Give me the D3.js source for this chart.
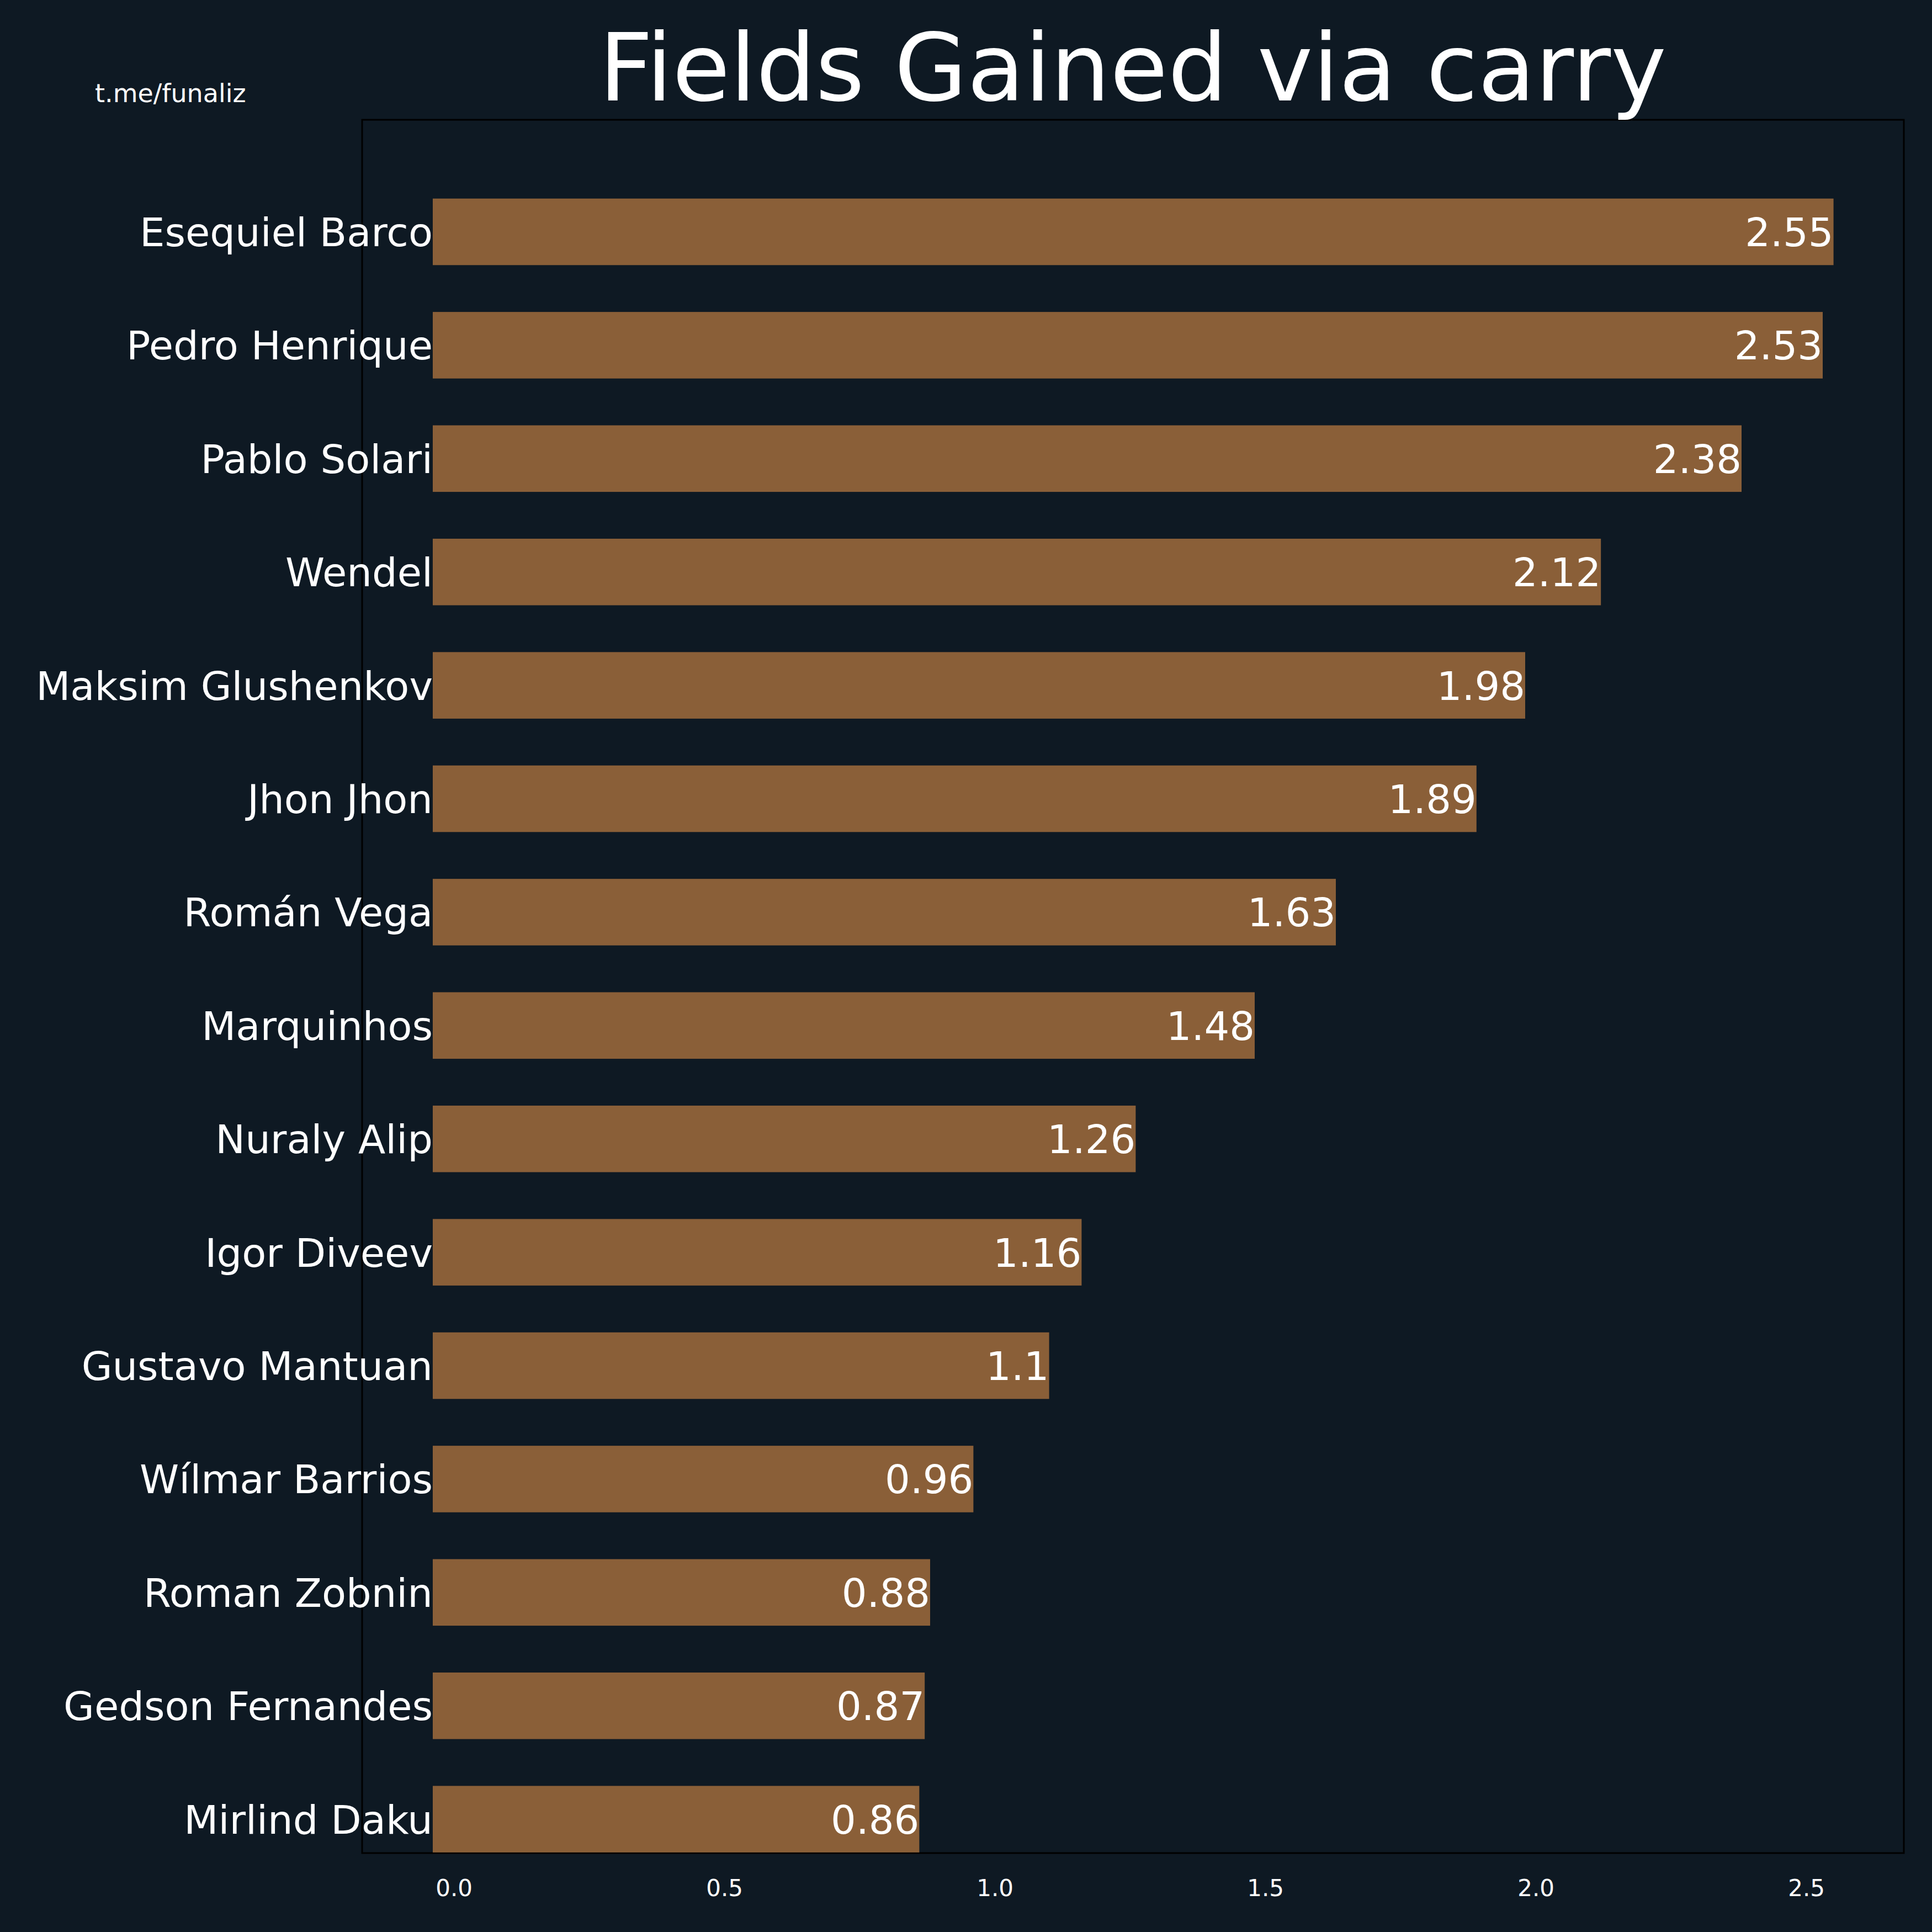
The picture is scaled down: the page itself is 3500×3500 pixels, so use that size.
<!DOCTYPE html>
<html><head><meta charset="utf-8">
<script src="https://cdn.jsdelivr.net/npm/d3@7"></script>
<style>body{margin:0;background:#0e1923;}</style>
</head><body>
<script>
const players = ["Esequiel Barco","Pedro Henrique","Pablo Solari","Wendel","Maksim Glushenkov","Jhon Jhon","Román Vega","Marquinhos","Nuraly Alip","Igor Diveev","Gustavo Mantuan","Wílmar Barrios","Roman Zobnin","Gedson Fernandes","Mirlind Daku"];
const values = [2.55,2.53,2.38,2.12,1.98,1.89,1.63,1.48,1.26,1.16,1.1,0.96,0.88,0.87,0.86];
const ticks = [0,0.5,1.0,1.5,2.0,2.5];
const W=3500,H=3500;
const svg=d3.select("body").append("svg").attr("width",W).attr("height",H).style("background","#0e1923");
const font="DejaVu Sans";
const L=656,R=3449,T=217,B=3357;
const x=d3.scaleLinear().domain([-0.17,2.68]).range([L,R]);
const y=d3.scaleBand().domain(players)
 .range([420-205.4*0.5, 420-205.4*0.5+205.4*15]).paddingInner(0.413).paddingOuter(0.2065);
svg.append("rect").attr("x",L).attr("y",T).attr("width",R-L).attr("height",B-T).attr("fill","#0e1923").attr("stroke","#000").attr("stroke-width",3);
const bx=784;
svg.selectAll("rect.bar").data(values).enter().append("rect").attr("class","bar")
 .attr("x",bx).attr("y",(d,i)=>y(players[i])).attr("height",y.bandwidth())
 .attr("width",d=>x(d)-bx).attr("fill","#8a5f38");
svg.selectAll("text.val").data(values).enter().append("text").attr("class","val")
 .attr("x",d=>x(d)).attr("y",(d,i)=>y(players[i])+y.bandwidth()/2).attr("dy","0.36em")
 .attr("text-anchor","end").attr("font-family",font).attr("font-size",72).attr("fill","#fff").text(d=>d);
svg.selectAll("text.name").data(players).enter().append("text").attr("class","name")
 .attr("x",bx).attr("y",d=>y(d)+y.bandwidth()/2).attr("dy","0.36em")
 .attr("text-anchor","end").attr("font-family",font).attr("font-size",72).attr("fill","#fff").text(d=>d);
svg.selectAll("text.tick").data(ticks).enter().append("text").attr("class","tick")
 .attr("x",d=>x(d)).attr("y",3420).attr("dy","0.36em").attr("text-anchor","middle")
 .attr("font-family",font).attr("font-size",42).attr("fill","#fff").text(d=>d.toFixed(1));
svg.append("text").attr("x",2052).attr("y",182).attr("text-anchor","middle").attr("font-family",font)
 .attr("font-size",170).attr("fill","#fff").text("Fields Gained via carry");
svg.append("text").attr("x",172).attr("y",185).attr("font-family",font).attr("font-size",46).attr("fill","#fff").text("t.me/funaliz");
</script></body></html>
